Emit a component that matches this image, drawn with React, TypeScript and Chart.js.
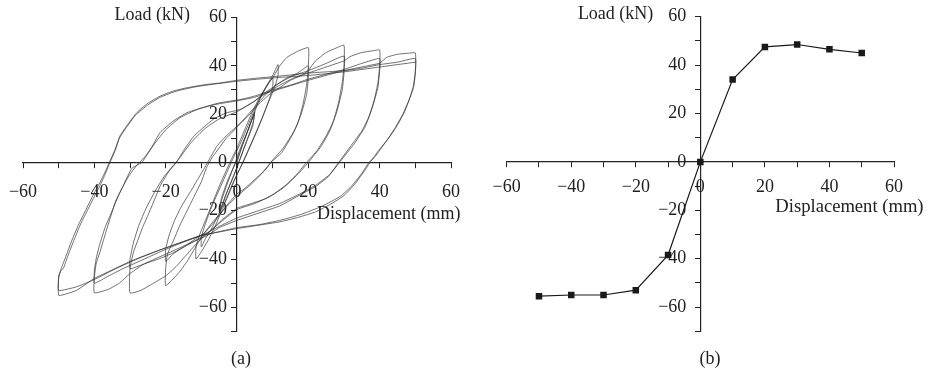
import React, { useEffect, useRef } from 'react';
import { Chart, registerables } from 'chart.js';

Chart.register(...registerables);

const FONT = '"Liberation Serif", "Times New Roman", serif';

// axis limits / ticks
const dispRange = [-60, 60];
const loadRange = [-70, 60];
const tickStep = 10;
const labelStep = 20;

// (b) skeleton curve
const skelDisp = [-50, -40, -30, -20, -10, 0, 10, 20, 30, 40, 50];
const skelLoad = [-55.5, -55, -55, -53, -38.5, 0, 34, 47.5, 48.5, 46.5, 45];

// (a) hysteresis loops, [displacement, load]
const loop05 = [
  [0, 0], [1.5, 7], [3, 13], [4.5, 19], [5, 21], [4.6, 17], [3, 10], [1, 2], [-1, -6], [-3, -13],
  [-4.5, -19], [-5, -21], [-4.6, -17], [-3, -10], [-1, -2], [1, 6], [3, 13], [4.8, 20], [4.4, 15],
  [2.5, 8], [0, -2], [-2.5, -11], [-4.8, -20], [-4.4, -15], [-2.5, -7], [0, 1],
];

const loop10 = [
  [0, 1], [2, 9], [4, 17], [6, 25], [8, 31], [10, 36], [11.5, 40.5], [11.5, 36], [10.5, 31], [8, 22],
  [5, 11], [2, 1], [0, -5], [-2, -12], [-4, -19], [-6, -26], [-8, -32], [-10, -37], [-11.5, -40],
  [-11.5, -35], [-10.5, -30], [-8, -21], [-5, -10], [-2, 0], [0, 6], [2, 13], [4, 20], [6, 26],
  [8, 31], [10, 35], [10, 31], [9, 26], [7, 18], [4, 8], [1, -2], [-1, -8], [-3, -15], [-5, -21],
  [-7, -27], [-9, -32], [-10, -35], [-10, -31], [-9, -26], [-7, -18], [-4, -8], [-1, 2], [1, 8],
  [3, 15], [5, 22], [7, 28], [9, 33], [10, 35],
];

const loop20 = [
  [10, 35], [12, 40], [14, 43.5], [17, 46], [20, 47.5], [20, 40], [19.5, 32], [18.5, 24], [17, 16],
  [15, 10], [12.5, 4], [9.5, 0], [7, -4.5], [4, -9], [0, -14], [-4, -20], [-7, -25], [-10, -31],
  [-12, -36], [-14, -41], [-16.5, -46], [-20, -51], [-20, -44], [-19.5, -38], [-18, -33], [-16, -26],
  [-14, -20], [-12, -14], [-10, -8], [-8.5, -2], [-7, 2], [-5, 6], [-3, 10], [-1, 13], [2, 18],
  [5, 23], [8, 28], [11, 32], [14, 35], [17, 37], [20, 40],
  [20, 35], [19.5, 28], [18, 20], [16, 13], [13, 6], [10, 1], [8, -3], [5, -7], [2, -11], [0, -13],
  [-3, -18], [-6, -24], [-9, -29], [-12, -32], [-15, -35], [-18, -38], [-20, -41], [-20, -36],
  [-19, -30], [-17.5, -24], [-15.5, -18], [-13, -12], [-11, -7], [-9, -2], [-7.5, 2], [-5.5, 7],
  [-3, 11], [0, 15], [3, 19], [6, 24], [9, 28], [12, 31], [15, 34], [18, 36], [20, 38],
];

const loop30 = [
  [20, 38], [22, 42], [25, 45.5], [28, 47.5], [30, 48.5], [30, 40], [29.5, 33], [28.5, 25], [27, 17],
  [25, 11], [22.5, 5], [19.5, 0], [17, -4.5], [14, -9], [10, -13.5], [5, -17], [0, -19.5], [-4, -24],
  [-8, -29], [-11, -33], [-14, -38], [-17, -43], [-20, -47], [-24, -50.5], [-27, -53], [-30, -54],
  [-30, -44], [-29, -37], [-28, -33], [-26.5, -27], [-25, -22], [-23, -15], [-21.5, -9.6], [-19, -3.5],
  [-17, 0], [-14.5, 6], [-12, 11], [-9, 15], [-6.5, 18], [-3, 20.5], [1, 22], [5, 25.5], [8, 29],
  [12, 33], [16, 36], [20, 38], [25, 41], [30, 44],
  [30, 37], [29.5, 30], [28, 21], [26, 13], [23.5, 6.5], [20, 0], [17, -5], [13, -10.5], [8, -15],
  [3, -17.5], [0, -19], [-4, -23.5], [-8, -29], [-13, -33.5], [-18, -37.5], [-22, -40], [-26, -42],
  [-30, -44], [-30, -40], [-29, -33], [-27.5, -26], [-25.5, -19], [-23, -12], [-20.5, -6], [-18, -1.5],
  [-16, 2], [-13, 8], [-9, 14], [-5, 18], [0, 21], [4, 24.5], [8, 28.5], [12, 32], [16, 35], [20, 37],
  [25, 39.5], [30, 42],
];

const loop40 = [
  [30, 42], [32, 44], [35, 45.5], [38, 46.2], [40, 46.5], [40, 40], [39.5, 33], [38.5, 26], [37, 19],
  [35, 13], [32, 7], [28.5, 0], [25.5, -6], [22, -10], [17, -14], [12, -18], [6, -21], [0, -24],
  [-5, -27], [-8, -30], [-14, -34], [-20, -38], [-26, -42], [-30, -46], [-33, -50], [-36, -52.5],
  [-40, -54], [-40, -48], [-39.5, -42], [-38.4, -37], [-37, -30], [-35.6, -23.3], [-34, -16],
  [-31.9, -9.6], [-29.5, -2.5], [-26.7, 0], [-24, 6], [-21.6, 12.3], [-18, 17], [-14, 20.6], [-9, 23],
  [-4.8, 24.7], [0.8, 26], [5, 27.5], [10, 30], [15, 32], [20, 34.5], [25, 36.5], [30, 38.5],
  [35, 41], [40, 43],
  [40, 38], [39.5, 31], [38, 23], [36, 15], [33, 8], [29, 0.5], [26, -5], [22, -9.5], [17, -13.5],
  [12, -17], [6, -20], [0, -23], [-5, -26.5], [-9, -29.5], [-15, -33], [-20, -36], [-26, -40],
  [-32, -44], [-36, -47], [-40, -50], [-40, -45], [-39.5, -40], [-38.5, -34], [-37, -27], [-35, -20],
  [-33, -13], [-30.5, -6], [-28, -1], [-26, 2], [-23, 8], [-20, 13.5], [-16, 18.5], [-11, 22],
  [-6, 24], [0, 25.5], [5, 27], [10, 29.5], [20, 34], [30, 38], [40, 41],
];

const loop50 = [
  [40, 41], [42, 43.5], [45, 44.8], [48, 45.2], [50, 45.3], [50, 38], [49.5, 32], [48.5, 27], [47, 21],
  [44.8, 15], [42.5, 10], [40, 5.5], [38.5, 2.5], [37.3, 0], [35.5, -4], [33, -9], [30, -13.7],
  [26, -17.5], [22, -20.5], [17, -22.8], [12, -24.6], [6, -26], [0, -27.4], [-5, -28.8], [-10, -30.2],
  [-18, -34.3], [-24, -37.5], [-30, -41], [-35, -44.5], [-40, -48], [-42, -50], [-45, -53],
  [-48, -54.5], [-50, -55], [-50, -47], [-49.5, -45], [-48.7, -43.9], [-47.5, -39], [-45.9, -32.9],
  [-44, -26], [-42.2, -20.6], [-40.3, -15], [-38.4, -9.6], [-37, -5], [-35.6, 0], [-34, 5.5],
  [-32.8, 11], [-30.5, 16], [-28.1, 20.6], [-25, 24.5], [-21.6, 27.4], [-18, 29.5], [-14.1, 30.9],
  [-9, 32.2], [-4.8, 32.9], [0, 34], [5, 34.8], [10, 35.5], [15, 36.2], [20, 37], [25, 37.5],
  [30, 38], [35, 39], [40, 40.5], [45, 41.5], [50, 43],
  [50, 37], [49.5, 31], [48.3, 26], [46.5, 20], [44, 13.5], [41, 7], [38.5, 2], [37, 0], [35, -4.5],
  [32, -10], [29, -14], [24, -18], [18, -21.5], [12, -24], [6, -25.8], [0, -27], [-6, -29],
  [-10, -30.3], [-16, -33.3], [-22, -36.5], [-28, -40], [-34, -44], [-40, -48.5], [-45, -51.5],
  [-50, -53], [-50, -48], [-49.3, -44], [-48, -39], [-46.5, -33], [-44.5, -26], [-42.5, -20],
  [-40.5, -14], [-38.5, -8.5], [-37, -4], [-35.8, 0], [-34.3, 5], [-33, 10], [-31, 14.5],
  [-28.5, 19.5], [-25, 23.8], [-21.5, 27], [-17, 29.5], [-12, 31.2], [-6, 32.5], [0, 33.6],
  [6, 34.5], [12, 35.2], [20, 36], [30, 37.5], [40, 39.5], [50, 41.5],
];

const hysteresisLoops = [loop05, loop10, loop20, loop30, loop40, loop50];

const fmt = (v: number) => {
  if (v % labelStep !== 0) return '';
  return v < 0 ? '\u2212' + Math.abs(v) : String(v);
};

function axes(xPad: number, yPad: number) {
  const common = {
    type: 'linear' as const,
    grid: { drawOnChartArea: false, drawTicks: true, tickLength: 5, color: '#222', lineWidth: 1 },
    border: { display: true, color: '#222', width: 1.2 },
  };
  return {
    x: {
      ...common,
      min: dispRange[0],
      max: dispRange[1],
      position: { y: 0 },
      ticks: {
        stepSize: tickStep, autoSkip: false, maxRotation: 0, padding: xPad,
        color: '#222', font: { family: FONT, size: 18 }, callback: (v: any) => fmt(Number(v)),
      },
    },
    y: {
      ...common,
      min: loadRange[0],
      max: loadRange[1],
      position: 'center',
      ticks: {
        stepSize: tickStep, autoSkip: false, padding: yPad,
        color: '#222', font: { family: FONT, size: 18 }, callback: (v: any) => fmt(Number(v)),
      },
    },
  };
}

function titlesPlugin(dx: number, dy: number, size: number) {
  return {
    id: 'axisTitles',
    afterDraw(chart: any) {
      const { ctx, chartArea, scales } = chart;
      const x0 = scales.x.getPixelForValue(0);
      const y0 = scales.y.getPixelForValue(0);
      ctx.save();
      ctx.fillStyle = '#222';
      ctx.textBaseline = 'middle';
      ctx.font = '18px ' + FONT;
      ctx.textAlign = 'right';
      ctx.fillText('Load (kN)', x0 - 47, chartArea.top - 2);
      ctx.font = size + 'px ' + FONT;
      ctx.textAlign = 'left';
      ctx.fillText('Displacement (mm)', x0 + dx, y0 + dy);
      ctx.restore();
    },
  };
}

// canvas boxes (page px) and paddings that place each plot area
const boxA = { left: -7, top: -13, width: 490, height: 374 };
const padA = { left: 30, right: 32, top: 30.5, bottom: 29.5 };
const boxB = { left: 477, top: -13, width: 457, height: 374 };
const padB = { left: 29.7, right: 40, top: 29.7, bottom: 29.7 };

function Panel({ which }: { which: 'a' | 'b' }) {
  const ref = useRef<HTMLCanvasElement>(null);
  useEffect(() => {
    if (!ref.current) return;
    let chart: Chart;
    if (which === 'a') {
      chart = new Chart(ref.current, {
        type: 'scatter',
        data: {
          datasets: hysteresisLoops.map((lp) => ({
            data: lp.map(([x, y]) => ({ x, y })),
            showLine: true,
            borderColor: 'rgba(45,45,45,0.85)',
            borderWidth: 0.8,
            pointRadius: 0,
            tension: 0.15,
            fill: false,
          })),
        },
        options: {
          animation: false,
          responsive: false,
          devicePixelRatio: 1,
          layout: { padding: padA },
          plugins: { legend: { display: false }, tooltip: { enabled: false } },
          scales: axes(14, 5) as any,
        },
        plugins: [titlesPlugin(80, 52, 18)],
      });
    } else {
      chart = new Chart(ref.current, {
        type: 'scatter',
        data: {
          datasets: [{
            data: skelDisp.map((x, i) => ({ x, y: skelLoad[i] })),
            showLine: true,
            borderColor: '#1a1a1a',
            borderWidth: 1.2,
            pointStyle: 'rect',
            pointRadius: 4.6,
            pointBackgroundColor: '#1a1a1a',
            pointBorderColor: '#1a1a1a',
            pointBorderWidth: 0,
          }],
        },
        options: {
          animation: false,
          responsive: false,
          devicePixelRatio: 1,
          layout: { padding: padB },
          plugins: { legend: { display: false }, tooltip: { enabled: false } },
          scales: axes(10, 9) as any,
        },
        plugins: [titlesPlugin(75, 45, 18.6)],
      });
    }
    return () => chart.destroy();
  }, [which]);
  const box = which === 'a' ? boxA : boxB;
  return (
    <canvas
      ref={ref}
      width={box.width}
      height={box.height}
      style={{ position: 'absolute', left: box.left, top: box.top, width: box.width, height: box.height }}
    />
  );
}

export default function App() {
  useEffect(() => {
    document.body.style.margin = '0';
    document.body.style.background = '#fff';
  }, []);
  const cap = {
    position: 'absolute' as const, top: 346, width: 60, textAlign: 'center' as const,
    font: '18px ' + FONT, color: '#222', lineHeight: '24px',
  };
  return (
    <div style={{ position: 'relative', width: 928, height: 374, background: '#fff', overflow: 'hidden' }}>
      <Panel which="a" />
      <Panel which="b" />
      <div style={{ ...cap, left: 241 - 30 }}>(a)</div>
      <div style={{ ...cap, left: 710 - 30 }}>(b)</div>
    </div>
  );
}
